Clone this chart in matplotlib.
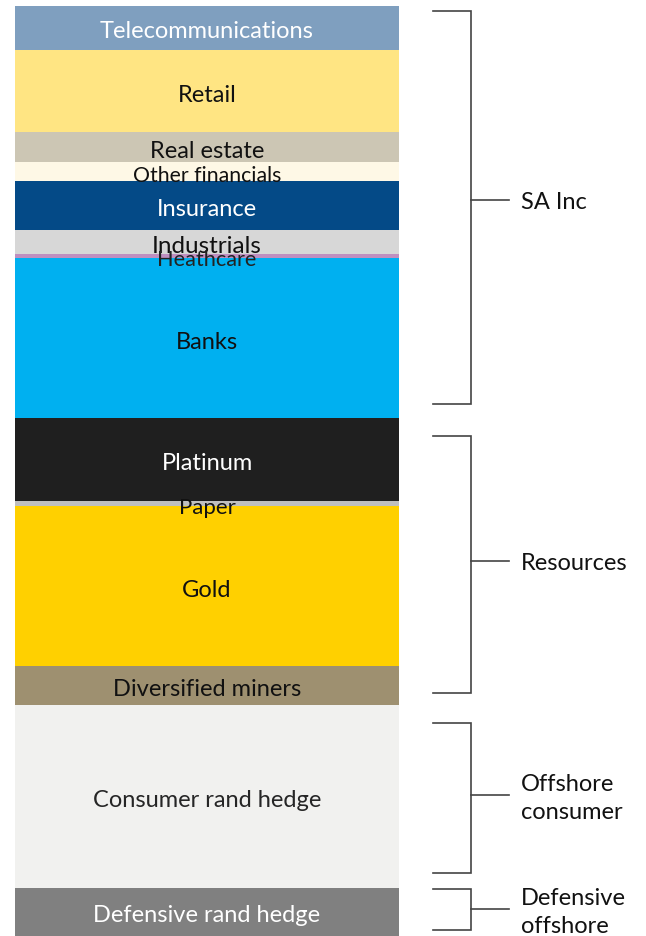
import matplotlib
matplotlib.use("Agg")
import matplotlib.pyplot as plt
import matplotlib.transforms as mtransforms
import numpy as np

plt.rcParams['font.family'] = ['Lato', 'DejaVu Sans']

# Data (share of portfolio, %), top to bottom
sectors = ["Telecommunications", "Retail", "Real estate", "Other financials",
           "Insurance", "Industrials", "Heathcare", "Banks", "Platinum", "Paper",
           "Gold", "Diversified miners", "Consumer rand hedge", "Defensive rand hedge"]
weights = [4.7, 8.9, 3.2, 2.0, 5.3, 2.6, 0.4, 17.2, 8.9, 0.6, 17.2, 4.2, 19.6, 5.2]
colors = ["#7F9FBF", "#FFE583", "#CCC6B4", "#FEF8E6", "#044A87", "#D7D7D7",
          "#BF8FC0", "#00B0F0", "#1F1F1F", "#BFBFBF", "#FFD000", "#9E9070",
          "#F1F1EF", "#808080"]
text_colors = ["white", "#111111", "#111111", "#111111", "white", "#111111",
               "#222222", "#111111", "white", "#111111", "#111111", "#111111",
               "#262626", "white"]
label_sizes = [17, 17, 17, 15.3, 17, 17.5, 15.7, 17, 17, 16, 17, 17, 17, 17]

groups = ["SA Inc", "Resources", "Offshore\nconsumer", "Defensive\noffshore"]
group_sizes = [8, 4, 1, 1]   # number of sectors in each group
group_pads = [(0.5, 1.5), (1.9, 1.3), (1.9, 1.6), (0.1, 0.6)]
tick_frac = [0.481, 0.486, 0.482, 0.495]

W, H = 646, 936
fig = plt.figure(figsize=(W / 100, H / 100), dpi=100)
ax = fig.add_axes([15 / W, 0, 384 / W, 930 / H])

bottoms = np.concatenate([[0], np.cumsum(weights)[:-1]])
ax.bar(0, weights, bottom=bottoms, width=1.0, color=colors, linewidth=0, align='center')
ax.set_xlim(-0.5, 0.5)
ax.set_ylim(100, 0)
ax.axis('off')

tdown = mtransforms.offset_copy(ax.transData, fig=fig, x=0, y=-2, units='dots')
for name, w, b, tc, s in zip(sectors, weights, bottoms, text_colors, label_sizes):
    ax.text(0, b + w / 2, name, ha='center', va='center_baseline', color=tc,
            fontsize=s, transform=tdown)

# Brackets
trans = mtransforms.blended_transform_factory(ax.transAxes, ax.transData)
trans_lbl = mtransforms.offset_copy(trans, fig=fig, x=0, y=-3, units='dots')
x0 = (433 - 15) / 384
x1 = (470.7 - 15) / 384
x2 = (509 - 15) / 384
xl = (520.7 - 15) / 384
cum = np.concatenate([[0], np.cumsum(weights)])
idx = 0
for g, n, (pt, pb), f in zip(groups, group_sizes, group_pads, tick_frac):
    top = cum[idx] + pt
    bot = cum[idx + n] - pb
    idx += n
    mid = top + (bot - top) * f
    ax.plot([x0, x1, x1, x0], [top, top, bot, bot], color="#444444", lw=1.2,
            transform=trans, clip_on=False, solid_joinstyle='miter')
    ax.plot([x1, x2], [mid, mid], color="#444444", lw=1.2, transform=trans, clip_on=False)
    ax.text(xl, mid, g, ha='left', va='center', fontsize=17, color="#111111",
            transform=trans_lbl, linespacing=1.4)

fig.savefig("out.png", dpi=100, facecolor="white")
